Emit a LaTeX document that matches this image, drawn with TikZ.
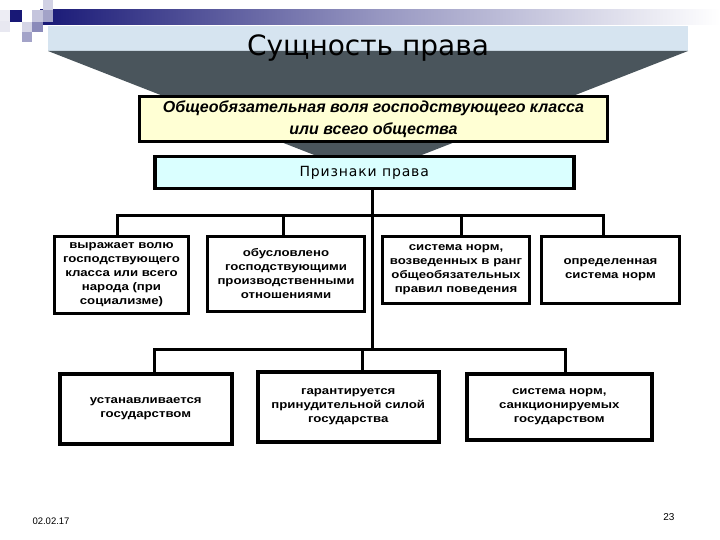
\documentclass[tikz,border=0pt]{standalone}
\usepackage{fontspec}
\setmainfont{Liberation Sans}
\newfontfamily\titlefont{DejaVu Sans}
\newfontfamily\boxfont[FakeStretch=1.2]{Liberation Sans}
\usepackage{tikz}
\usetikzlibrary{positioning, calc}
\definecolor{navybar}{RGB}{24,24,118}
\definecolor{funnelgray}{RGB}{74,85,92}
\definecolor{bandblue}{RGB}{214,228,240}
\definecolor{willyellow}{RGB}{255,255,212}
\definecolor{signcyan}{RGB}{218,255,255}
\tikzset{
  willbox/.style={
    draw, line width=3pt, fill=willyellow, align=center,
    font=\fontsize{16}{22}\selectfont\bfseries\itshape,
    minimum width=468pt, minimum height=45pt, anchor=north west
  },
  signbox/.style={
    draw, line width=3.5pt, fill=signcyan, align=center,
    font=\titlefont\fontsize{14}{16}\selectfont\addfontfeature{LetterSpace=6},
    minimum width=419pt, minimum height=32pt, anchor=north west
  },
  featbox/.style={
    draw, line width=3pt, fill=white, align=center,
    font=\boxfont\fontsize{11}{14}\selectfont\bfseries,
    minimum height=70pt, inner sep=2pt, anchor=north west
  },
  statebox/.style={
    draw, line width=3.5pt, fill=white, align=center,
    font=\boxfont\fontsize{11}{14}\selectfont\bfseries,
    minimum height=68pt, inner sep=2pt, anchor=north west
  },
  busline/.style={line width=3pt},
}

\begin{document}
\begin{tikzpicture}[x=1pt, y=-1pt]
  \useasboundingbox (0,0) rectangle (720,540);

  % ── Header bar and corner squares ──────────────────────────────
  \shade[left color=navybar, right color=white, middle color=navybar!45!white]
    (40,10) rectangle (720,25);
  \fill[navybar!8]  (0,10) rectangle (10,21);
  \fill[navybar]    (10,10) rectangle (22,22);
  \fill[navybar!25] (32,10) rectangle (43,22);
  \fill[navybar!20] (43,0) rectangle (53,10);
  \fill[navybar!40] (43,10) rectangle (53,22);
  \fill[navybar!18] (22,22) rectangle (32,32);
  \fill[navybar!50] (32,22) rectangle (43,32);
  \fill[navybar!40] (22,32) rectangle (32,42);
  \fill[navybar!10] (0,21) rectangle (10,32);

  % ── Funnel behind the title ───────────────────────────────────
  \fill[bandblue] (48,26) rectangle (688,51);
  \fill[funnelgray] (48,51) -- (688,51) -- (368,176) -- cycle;
  \node[font=\titlefont\fontsize{28}{30}\selectfont] (title) at (368,48)
    {Сущность права};

  % ── Essence and signs ─────────────────────────────────────────
  \node[willbox] (will) at (138,95)
    {Общеобязательная воля господствующего класса\\или всего общества};
  \node[signbox] (signs) at (153,155) {Признаки  права};

  % ── Upper row of signs ────────────────────────────────────────
  \node[featbox, minimum width=134pt, minimum height=77pt] (f1) at (53,235)
    {выражает волю\\господствующего\\класса или всего\\народа (при\\социализме)};
  \node[featbox, minimum width=157pt, minimum height=75pt] (f2) at (206,235)
    {обусловлено\\господствующими\\производственными\\отношениями};
  \node[featbox, minimum width=147pt, minimum height=67pt] (f3) at (381,235)
    {система норм,\\возведенных в ранг\\общеобязательных\\правил поведения};
  \node[featbox, minimum width=138pt, minimum height=67pt] (f4) at (540,235)
    {определенная\\система норм};

  % ── Lower row of signs ────────────────────────────────────────
  \node[statebox, minimum width=172pt, minimum height=70pt] (s1) at (58,372)
    {устанавливается\\государством};
  \node[statebox, minimum width=181pt, minimum height=70pt] (s2) at (256,370)
    {гарантируется\\принудительной силой\\государства};
  \node[statebox, minimum width=185pt, minimum height=66pt] (s3) at (465,372)
    {система норм,\\санкционируемых\\государством};

  % ── Connectors ────────────────────────────────────────────────
  \coordinate (ubus) at (372,216);
  \coordinate (lbus) at (372,349);
  \draw[busline] (signs.south -| ubus) -- (lbus);
  \foreach \nd/\dx in {f1/-4, f2/-3, f3/5, f4/-7}
    \draw[busline] ([xshift=\dx pt]\nd.north) |- (ubus);
  \foreach \nd/\dx in {s1/9, s2/14, s3/6}
    \draw[busline] ([xshift=\dx pt]\nd.north) |- (lbus);

  % ── Footer ────────────────────────────────────────────────────
  \node[font=\fontsize{9.5}{10}\selectfont, anchor=west] (date) at (29,521)
    {02.02.17};
  \node[font=\fontsize{10}{11}\selectfont, anchor=east] (page) at (678,517)
    {23};
\end{tikzpicture}
\end{document}
